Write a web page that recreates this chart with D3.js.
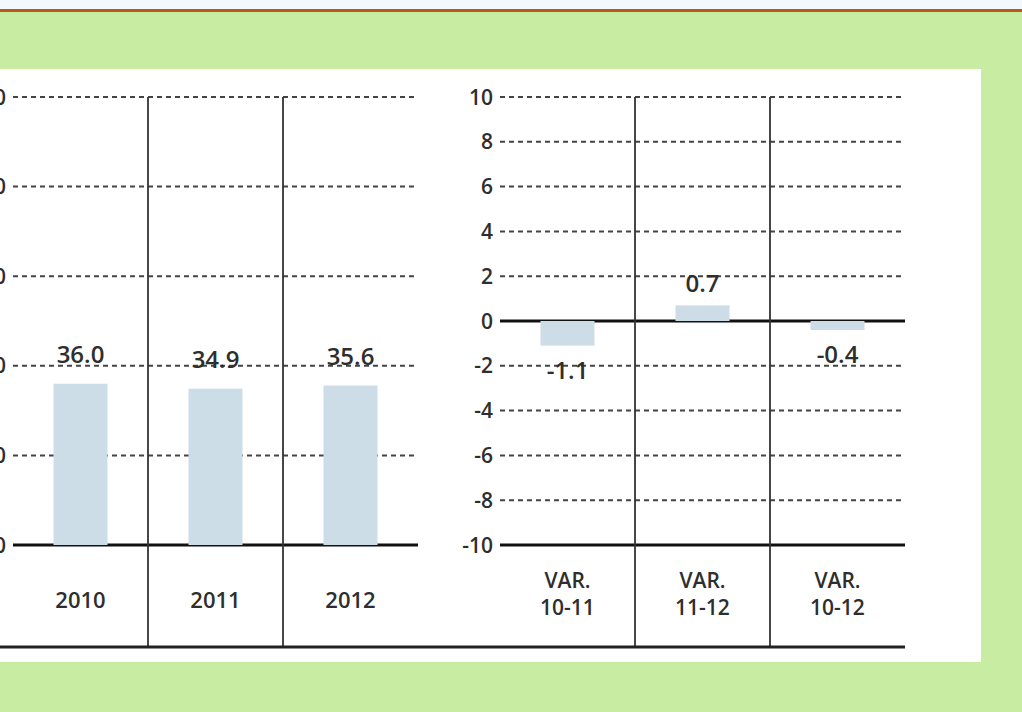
<!DOCTYPE html>
<html>
<head>
<meta charset="utf-8">
<script src="https://cdn.jsdelivr.net/npm/d3@7"></script>
<style>
  html, body { margin: 0; padding: 0; background: #c7eca2; }
  svg { display: block; }
  text { font-family: "Open Sans", "DejaVu Sans", sans-serif; fill: #2e2e2e; font-weight: 600; }
</style>
</head>
<body>
<svg id="chart" width="1022" height="712"></svg>
<script>
// ---- data ----
const years = ["2010", "2011", "2012"];
const values = [36.0, 34.9, 35.6];
const leftTicks = [0, 20, 40, 60, 80, 100];

const varCategories = ["VAR.\n10-11", "VAR.\n11-12", "VAR.\n10-12"];
const varValues = [-1.1, 0.7, -0.4];
const rightTicks = [-10, -8, -6, -4, -2, 0, 2, 4, 6, 8, 10];

// ---- setup ----
const svg = d3.select("#chart");
const W = 1022, H = 712;

// background pieces
svg.append("rect").attr("x", 0).attr("y", 0).attr("width", W).attr("height", H).attr("fill", "#c7eca2");
svg.append("rect").attr("x", 0).attr("y", 0).attr("width", W).attr("height", 9).attr("fill", "#f3f8fe");
svg.append("rect").attr("x", 0).attr("y", 9).attr("width", W).attr("height", 3).attr("fill", "#b9581b");
svg.append("rect").attr("x", 0).attr("y", 69).attr("width", 981).attr("height", 593).attr("fill", "#ffffff");

const yTop = 97, yBase = 545, yBottom = 647;
const barColor = "#cddde8";

function panel(cats, vals, ticks, xRange, yDomain, opts) {
  const x = d3.scaleBand().domain(cats).range(xRange).paddingInner(0.6).paddingOuter(0.3);
  const y = d3.scaleLinear().domain(yDomain).range([yBase, yTop]);
  const step = x.step();
  const g = svg.append("g");

  // gridlines (dashed) except solid ones
  g.selectAll("line.grid").data(ticks.filter(t => !opts.solid.includes(t)))
    .join("line").attr("class", "grid")
    .attr("x1", xRange[0]).attr("x2", xRange[1])
    .attr("y1", d => y(d)).attr("y2", d => y(d))
    .attr("stroke", "#444").attr("stroke-width", 2).attr("stroke-dasharray", "5,4");

  // solid lines
  g.selectAll("line.solid").data(opts.solid)
    .join("line").attr("class", "solid")
    .attr("x1", xRange[0]).attr("x2", xRange[1])
    .attr("y1", d => y(d)).attr("y2", d => y(d))
    .attr("stroke", "#111").attr("stroke-width", 3);

  // bars (drawn over the lines)
  g.selectAll("rect.bar").data(cats)
    .join("rect").attr("class", "bar")
    .attr("x", d => x(d))
    .attr("width", x.bandwidth())
    .attr("y", (d, i) => Math.min(y(vals[i]), y(0)))
    .attr("height", (d, i) => Math.abs(y(vals[i]) - y(0)))
    .attr("fill", barColor);

  // vertical separators
  const seps = cats.slice(1).map(c => x(c) - step * x.paddingInner() / 2);
  g.selectAll("line.sep").data(seps)
    .join("line").attr("class", "sep")
    .attr("x1", d => d).attr("x2", d => d)
    .attr("y1", yTop).attr("y2", yBottom)
    .attr("stroke", "#333").attr("stroke-width", 1.8);

  // y-axis labels
  g.selectAll("text.ytick").data(ticks)
    .join("text").attr("class", "ytick")
    .attr("x", opts.labelX).attr("y", d => y(d))
    .attr("dy", "0.36em").attr("text-anchor", "end")
    .attr("font-size", 21)
    .text(d => d);

  // value labels
  g.selectAll("text.val").data(cats)
    .join("text").attr("class", "val")
    .attr("x", d => x(d) + x.bandwidth() / 2)
    .attr("y", (d, i) => vals[i] >= 0 ? y(vals[i]) - opts.posOff : y(vals[i]) + opts.negOff)
    .attr("text-anchor", "middle")
    .attr("font-size", 24)
    .attr("font-weight", 400)
    .text((d, i) => vals[i].toFixed(1));

  // category labels
  cats.forEach(c => {
    const lines = c.split("\n");
    const t = g.append("text")
      .attr("x", x(c) + x.bandwidth() / 2)
      .attr("text-anchor", "middle")
      .attr("font-size", 21);
    if (lines.length === 1) {
      t.attr("y", 608).attr("font-size", 22).text(lines[0]);
    } else {
      lines.forEach((l, k) => {
        t.append("tspan").attr("x", x(c) + x.bandwidth() / 2).attr("y", 588 + k * 27).text(l);
      });
    }
  });
  return { x, y };
}

panel(years, values, leftTicks, [13, 418], [0, 100], { solid: [0], labelX: 6, posOff: 21, negOff: 31 });
panel(varCategories, varValues, rightTicks, [500, 905], [-10, 10], { solid: [0, -10], labelX: 493, posOff: 13, negOff: 33 });

// bottom rule
svg.append("line").attr("x1", 0).attr("x2", 905).attr("y1", yBottom).attr("y2", yBottom)
  .attr("stroke", "#222").attr("stroke-width", 3);
</script>
</body>
</html>
